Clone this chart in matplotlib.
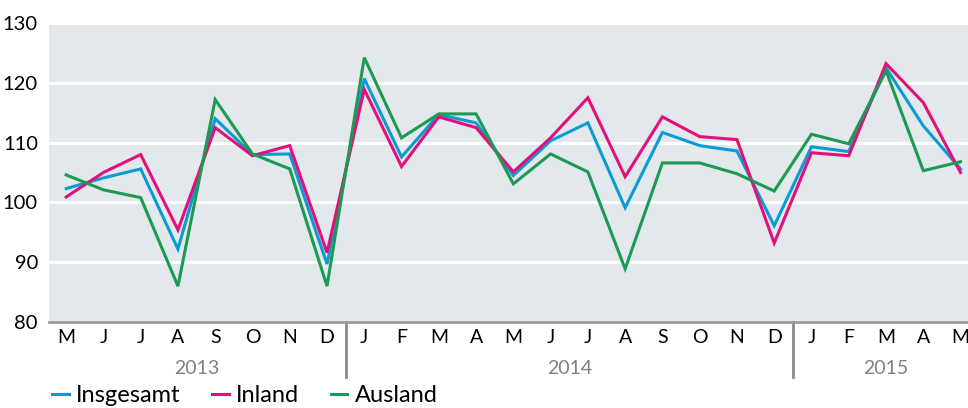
import matplotlib
matplotlib.use("Agg")
import matplotlib.pyplot as plt
import numpy as np

plt.rcParams["font.family"] = ["Lato", "DejaVu Sans"]

months = ["M", "J", "J", "A", "S", "O", "N", "D",
          "J", "F", "M", "A", "M", "J", "J", "A", "S", "O", "N", "D",
          "J", "F", "M", "A", "M"]
years = ["2013", "2014", "2015"]
year_spans = [(0, 7), (8, 19), (20, 24)]

insgesamt = [102.3, 104.1, 105.6, 92.2, 114.0, 108.0, 108.1, 89.7,
             120.7, 107.6, 114.7, 113.3, 104.5, 110.3, 113.3, 99.1,
             111.7, 109.5, 108.6, 96.1, 109.3, 108.5, 122.5, 112.8, 105.6]
inland = [100.9, 105.0, 108.0, 95.4, 112.5, 107.8, 109.5, 91.6,
          118.9, 106.0, 114.3, 112.5, 105.1, 110.8, 117.5, 104.3,
          114.3, 111.0, 110.5, 93.2, 108.3, 107.8, 123.2, 116.7, 105.0]
ausland = [104.6, 102.1, 100.8, 86.0, 117.2, 108.1, 105.6, 86.0,
           124.2, 110.8, 114.8, 114.8, 103.1, 108.1, 105.1, 88.9,
           106.6, 106.6, 104.8, 101.9, 111.4, 109.8, 122.0, 105.3, 106.8]

COLORS = {"Insgesamt": "#0a9bd5", "Inland": "#e2117a", "Ausland": "#1c9a52"}

fig = plt.figure(figsize=(9.68, 4.08), dpi=100)
ax = fig.add_axes([49 / 968, 1 - 322 / 408, 1 - 49 / 968, 299 / 408])
ax.set_facecolor("#e3e8ec")

x = np.arange(len(months))
for name, vals in [("Insgesamt", insgesamt), ("Inland", inland), ("Ausland", ausland)]:
    ax.plot(x, vals, color=COLORS[name], lw=2.2, label=name, solid_joinstyle="miter")

ax.set_xlim(-0.46, 24.2)
ax.set_ylim(80, 130)
ax.set_yticks([80, 90, 100, 110, 120, 130])
ax.yaxis.grid(True, color="white", lw=2.2)
ax.set_axisbelow(True)
for s in ["top", "right", "left"]:
    ax.spines[s].set_visible(False)
ax.spines["bottom"].set_color("#9a9a9a")
ax.spines["bottom"].set_linewidth(2)
ax.tick_params(axis="y", length=0, labelsize=14.5, pad=8)
ax.set_xticks(x)
ax.set_xticklabels(months)
ax.tick_params(axis="x", length=0, labelsize=14, pad=5)

# year separators and labels
for i in [7.5, 19.5]:
    ax.plot([i, i], [0, -0.185], transform=ax.get_xaxis_transform(),
            color="#8a8a8a", lw=2, clip_on=False)
for label, (a, b) in zip(years, year_spans):
    ax.text((a + b) / 2, -0.155, label, transform=ax.get_xaxis_transform(),
            ha="center", va="center", fontsize=14, color="#808080")

fig.legend(loc="center left", bbox_to_anchor=(0.054, 1 - 396 / 408), ncol=3,
           frameon=False, fontsize=17, handlelength=0.7, handletextpad=0.3,
           columnspacing=1.35, borderaxespad=0, borderpad=0)

fig.savefig("out.png", dpi=100)
